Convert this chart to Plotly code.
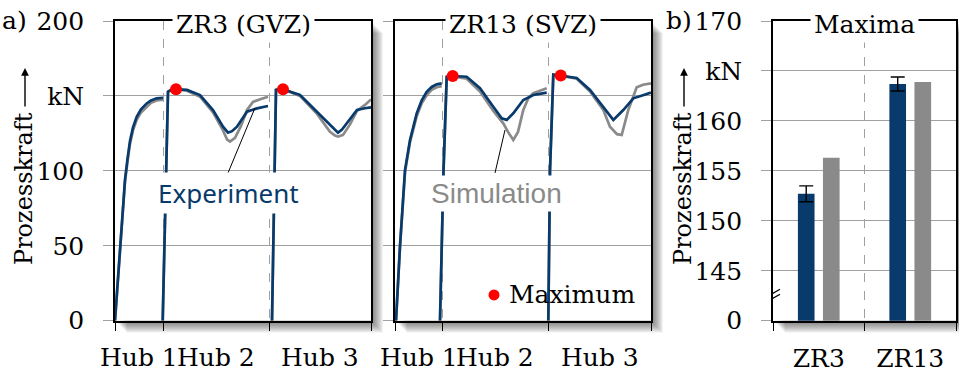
import plotly.graph_objects as go

# ---------------------------------------------------------------- data
HUB_LABELS = ["Hub 1", "Hub 2", "Hub 3"]
ZR3_HUB_BOUNDS = [0, 48, 154, 256]
ZR13_HUB_BOUNDS = [0, 47, 153, 256]

# ZR3 (GVZ): process force over three strokes (None separates strokes)
zr3_exp_x = [0, 3, 6, 10, 12.5, 15, 18, 21.7, 26, 31.7, 36, 41.7, 48, None,
             47.7, 51, 53, 57, 61, 72, 85, 98, 108, 113, 117, 122, 132, 142, 153, None,
             157, 159, 161, 165, 168, 185, 202, 218, 223, 227, 232, 242, 250, 256]
zr3_exp_y = [0, 28, 57, 94, 108, 120, 129, 136, 141, 145, 147, 148.4, 148.8, None,
             0, 94, 152.8, 154.2, 154.4, 154, 150.6, 140.6, 129.5, 125.5, 126.5, 129.5, 139.5, 141.7, 143.3, None,
             0, 90, 154, 154.6, 154.4, 150.6, 139.5, 128.4, 125.5, 127.5, 131.7, 140.6, 141.8, 142.4]
zr3_sim_x = [0, 3, 6, 10, 12.5, 15, 18, 21.7, 26, 31.7, 36, 41.7, 48, None,
             47.7, 51, 53, 57, 61, 72, 85, 98, 108, 112, 115, 120, 126, 132, 138, 146, 153, None,
             157, 159, 161, 165, 168, 185, 202, 215, 220, 223, 228, 235, 242, 250, 256]
zr3_sim_y = [0, 28, 57, 93, 106, 118, 127, 134, 139, 143, 145.5, 147, 147.5, None,
             0, 94, 153, 154.5, 154.5, 153.5, 149.5, 139, 127, 121, 119.5, 122, 130, 140.6, 146, 148, 149.5, None,
             0, 90, 154, 154.6, 154.5, 150, 138, 126, 123.5, 122.8, 124, 131, 140, 144, 147.7]

# ZR13 (SVZ)
zr13_exp_x = [1, 5, 10, 15, 21.7, 26.7, 31.7, 36.7, 41.7, 46.7, None,
              45, 48.5, 51.7, 57.7, 71.7, 85, 98.3, 106.7, 111.7, 118.3, 128.3, 138.3, 151.7, None,
              153.3, 155, 158.3, 165.7, 181.7, 195, 208.3, 218.3, 228.3, 238.3, 248, 256]
zr13_exp_y = [0, 50, 100.5, 120.6, 138.4, 147, 152.8, 156, 157.7, 158.4, None,
              0, 100, 162.8, 163.3, 162.8, 155.1, 142.8, 135, 134, 138.4, 147.3, 150.6, 152.2, None,
              0, 100, 164.2, 163.6, 162, 154, 142.8, 134, 140.6, 148.4, 150.5, 152.2]
zr13_sim_x = [1, 5, 10, 15, 21.7, 26.7, 31.7, 36.7, 41.7, 46.7, None,
              45, 48.5, 51.7, 57.7, 71.7, 85, 98.3, 108.3, 113, 118.3, 123, 128.3, 133, 138.3, 145, 151.7, None,
              153.3, 155, 158.3, 165.7, 181.7, 195, 208.3, 215, 222, 226.7, 233.3, 241.7, 248, 256]
zr13_sim_y = [0, 49, 99, 119, 136.5, 145, 150.5, 154, 155.8, 156.5, None,
              0, 100, 162.5, 163, 161.5, 153, 140, 131.7, 126, 120.6, 126, 140.6, 148, 151.8, 153.5, 155.1, None,
              0, 100, 164, 163.5, 161.5, 153, 140.6, 129.5, 124.5, 123.9, 140.6, 155.7, 157.5, 158.4]

# marked force maxima (experiment)
zr3_max_x = [61, 168]
zr3_max_y = [154.4, 154.4]
zr13_max_x = [57.7, 165.7]
zr13_max_y = [163.3, 163.6]

FORCE_TICKS = [0, 50, 100, 150, 200]
FORCE_TICKTEXT = ["0", "50", "100", "kN", "200"]

# b) maxima
MAX_CATEGORIES = ["ZR3", "ZR13"]
MAX_EXP = [152.7, 163.7]
MAX_EXP_ERR = [0.8, 0.7]
MAX_SIM = [156.3, 163.9]
MAX_TICKS = [140, 145, 150, 155, 160, 165, 170]
MAX_TICKTEXT = ["0", "145", "150", "155", "160", "kN", "170"]

# ---------------------------------------------------------------- style
W, H = 959, 375
BLUE = "#083a6b"
GREY = "#8a8a8a"
GRID = "#a0a0a0"
SERIF = "DejaVu Serif"
FS = 25

def fx(p):
    return p / W

def fy(p):
    return 1 - p / H

# plot boxes (left, right, top, bottom) in pixels
BOX_A1 = (115, 371, 21, 320.7)
BOX_A2 = (395, 651, 21, 320.7)
BOX_B = (773, 956, 21, 320.7)

fig = go.Figure()

def curve(x, y, color, xa, ya, name):
    fig.add_trace(go.Scatter(x=x, y=y, mode="lines", name=name, xaxis=xa, yaxis=ya,
                             line=dict(color=color, width=2.7), showlegend=False,
                             connectgaps=False))

curve(zr3_sim_x, zr3_sim_y, GREY, "x", "y", "Simulation")
curve(zr3_exp_x, zr3_exp_y, BLUE, "x", "y", "Experiment")
curve(zr13_sim_x, zr13_sim_y, GREY, "x2", "y2", "Simulation")
curve(zr13_exp_x, zr13_exp_y, BLUE, "x2", "y2", "Experiment")

for mx, my, xa, ya in [(zr3_max_x, zr3_max_y, "x", "y"), (zr13_max_x, zr13_max_y, "x2", "y2")]:
    fig.add_trace(go.Scatter(x=mx, y=my, mode="markers", xaxis=xa, yaxis=ya, showlegend=False,
                             marker=dict(color="#ff0000", size=12)))

# legend key for the maximum marker
fig.add_trace(go.Scatter(x=[99], y=[17.2], mode="markers", xaxis="x2", yaxis="y2",
                         showlegend=False, marker=dict(color="#ff0000", size=11)))

fig.add_trace(go.Bar(x=MAX_CATEGORIES, y=MAX_EXP, xaxis="x3", yaxis="y3", name="Experiment",
                     marker=dict(color=BLUE, line=dict(width=0)), width=0.182, offset=-0.228,
                     error_y=dict(type="data", array=MAX_EXP_ERR, color="black",
                                  thickness=1.4, width=7), showlegend=False))
fig.add_trace(go.Bar(x=MAX_CATEGORIES, y=MAX_SIM, xaxis="x3", yaxis="y3", name="Simulation",
                     marker=dict(color=GREY, line=dict(width=0)), width=0.182, offset=0.046,
                     showlegend=False))

tickfont = dict(family=SERIF, size=FS, color="black")

def xaxis_lines(box, bounds):
    return dict(domain=[fx(box[0]), fx(box[1])], range=[bounds[0], bounds[-1]],
                tickvals=bounds, ticktext=[""] * len(bounds), ticks="outside", ticklen=8,
                tickcolor="black", tickwidth=1.4, showline=True, linecolor="black",
                linewidth=1.6, mirror=True, showgrid=True, gridcolor=GRID, griddash="dash",
                gridwidth=1, zeroline=False, fixedrange=True, automargin=False)

def yaxis_force(box, anchor, labels):
    return dict(domain=[fy(box[3]), fy(box[2])], range=[0, 200], anchor=anchor,
                tickvals=FORCE_TICKS, ticktext=FORCE_TICKTEXT, ticks="outside", ticklen=10,
                tickcolor=GRID, tickwidth=1.2, tickfont=tickfont, ticklabelstandoff=14,
                showticklabels=labels,
                showline=True, linecolor="black", linewidth=1.6, mirror=True,
                showgrid=True, gridcolor=GRID, gridwidth=1.2, zeroline=False, fixedrange=True,
                automargin=False)

layout = dict(
    width=W, height=H, margin=dict(l=0, r=0, t=0, b=0, autoexpand=False),
    paper_bgcolor="white", plot_bgcolor="white", showlegend=False,
    xaxis=dict(**xaxis_lines(BOX_A1, ZR3_HUB_BOUNDS), anchor="y"),
    yaxis=yaxis_force(BOX_A1, "x", True),
    xaxis2=dict(**xaxis_lines(BOX_A2, ZR13_HUB_BOUNDS), anchor="y2"),
    yaxis2=yaxis_force(BOX_A2, "x2", False),
    xaxis3=dict(domain=[fx(BOX_B[0]), fx(BOX_B[1])], anchor="y3", type="category",
                range=[-0.5, 1.5], tickson="boundaries", ticks="outside", ticklen=8,
                tickcolor="black", tickwidth=1.4, tickfont=tickfont, ticklabelstandoff=14,
                showline=True, linecolor="black", linewidth=1.6, mirror=True,
                showgrid=True, gridcolor=GRID, griddash="dash", gridwidth=1, fixedrange=True,
                automargin=False),
    yaxis3=dict(domain=[fy(BOX_B[3]), fy(BOX_B[2])], range=[140, 170], anchor="x3",
                tickvals=MAX_TICKS, ticktext=MAX_TICKTEXT, ticks="outside", ticklen=10,
                tickcolor=GRID, tickwidth=1.2, tickfont=tickfont, ticklabelstandoff=14,
                showline=True, linecolor="black", linewidth=1.6, mirror=True,
                showgrid=True, gridcolor=GRID, gridwidth=1.2, zeroline=False, fixedrange=True,
                automargin=False),
)
fig.update_layout(**layout)

shapes = []
# drop shadow on the right and bottom of every plot box
for (l, r, t, b) in (BOX_A1, BOX_A2, BOX_B):
    for k in range(1, 13):
        path = (f"M {fx(r)},{fy(t + k)} L {fx(r + k)},{fy(t + k)} L {fx(r + k)},{fy(b + k)} "
                f"L {fx(l + k)},{fy(b + k)} L {fx(l + k)},{fy(b)} L {fx(r)},{fy(b)} Z")
        shapes.append(dict(type="path", xref="paper", yref="paper", path=path,
                           fillcolor="rgba(0,0,0,0.05)", line=dict(width=0), layer="below"))

# black tick extensions at the bottom and top of each force axis
for xa, ya, lo, hi in (("x", "y", 0, 200), ("x2", "y2", 0, 200), ("x3", "y3", 140, 170)):
    x_anchor = -0.5 if xa == "x3" else 0
    for yv in (lo, hi):
        shapes.append(dict(type="line", xref=xa, yref=ya, xsizemode="pixel", xanchor=x_anchor,
                           x0=-10, x1=0, y0=yv, y1=yv, line=dict(color="black", width=1.6)))

# axis break marks on the maxima axis
for dy in (-2.5, 2.5):
    shapes.append(dict(type="line", xref="x3", yref="y3", xsizemode="pixel", ysizemode="pixel",
                       xanchor=-0.5, yanchor=142.5, x0=-7, x1=7, y0=-4 + dy, y1=4 + dy,
                       line=dict(color="black", width=1.3)))

# leader lines from the series labels to the curves
shapes.append(dict(type="line", xref="x", yref="y", x0=113, y0=98.6, x1=140, y1=142,
                   line=dict(color="black", width=1)))
shapes.append(dict(type="line", xref="x2", yref="y2", x0=100, y0=98.6, x1=110, y1=127.3,
                   line=dict(color="black", width=1)))
fig.update_layout(shapes=shapes)

ann = []
# panel titles sitting on the top frame line
for box, text in ((BOX_A1, "ZR3 (GVZ)"), (BOX_A2, "ZR13 (SVZ)"), (BOX_B, "Maxima")):
    ann.append(dict(xref="paper", yref="paper", x=fx((box[0] + box[1]) / 2), y=fy(box[2] + 3),
                    text=text, showarrow=False, bgcolor="white", borderpad=3,
                    xanchor="center", yanchor="middle",
                    font=dict(family=SERIF, size=FS, color="black")))

# stroke labels centred between the stroke boundaries
for xa, bounds in (("x", ZR3_HUB_BOUNDS), ("x2", ZR13_HUB_BOUNDS)):
    for i, lab in enumerate(HUB_LABELS):
        ann.append(dict(xref=xa, yref="paper", x=(bounds[i] + bounds[i + 1]) / 2, y=fy(357),
                        text=lab, showarrow=False, xanchor="center", yanchor="middle",
                        font=dict(family=SERIF, size=FS, color="black")))

ann.append(dict(xref="x", yref="y", x=113, y=85.2, text="Experiment", showarrow=False,
                bgcolor="white", borderpad=2, xanchor="center", yanchor="middle",
                font=dict(family="Noto Sans", size=26, color=BLUE)))
ann.append(dict(xref="x2", yref="y2", x=101, y=85.2, text="Simulation", showarrow=False,
                bgcolor="white", borderpad=2, xanchor="center", yanchor="middle",
                font=dict(family="Liberation Sans", size=28, color=GREY)))
ann.append(dict(xref="x2", yref="y2", x=112, y=17.2, text="Maximum", showarrow=False,
                xanchor="left", yanchor="middle",
                font=dict(family=SERIF, size=FS, color="black")))

# panel letters
ann.append(dict(xref="paper", yref="paper", x=fx(0), y=fy(20), text="a)", showarrow=False,
                xanchor="left", yanchor="middle", font=dict(family=SERIF, size=FS, color="black")))
ann.append(dict(xref="paper", yref="paper", x=fx(664), y=fy(20), text="b)", showarrow=False,
                xanchor="left", yanchor="middle", font=dict(family=SERIF, size=FS, color="black")))

# force axis titles with upward arrow
for cx in (24, 683):
    ann.append(dict(xref="paper", yref="paper", x=fx(cx), y=fy(189), text="Prozesskraft",
                    textangle=-90, showarrow=False, xanchor="center", yanchor="middle",
                    font=dict(family=SERIF, size=24, color="black")))
    ann.append(dict(xref="paper", yref="paper", x=fx(cx + 1), y=fy(68), text="",
                    showarrow=True, ax=0, ay=40, arrowhead=2, arrowsize=1.1, arrowwidth=1.4,
                    arrowcolor="black", standoff=0))
fig.update_layout(annotations=ann)

fig.write_html("out.html")
